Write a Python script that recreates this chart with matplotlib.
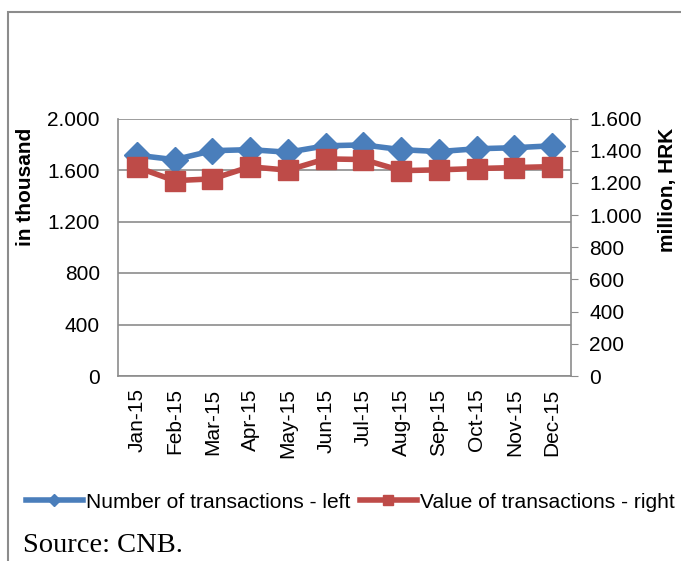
import matplotlib.pyplot as plt
from matplotlib.patches import Rectangle
from matplotlib.ticker import FuncFormatter

months = ["Jan-15", "Feb-15", "Mar-15", "Apr-15", "May-15", "Jun-15",
          "Jul-15", "Aug-15", "Sep-15", "Oct-15", "Nov-15", "Dec-15"]
num_tx = [1715, 1680, 1750, 1758, 1738, 1788, 1795, 1758, 1743, 1765, 1773, 1788]
val_tx = [1297, 1214, 1225, 1300, 1279, 1349, 1345, 1276, 1281, 1289, 1295, 1301]

blue = "#4A7EBB"
red = "#BE4B48"
grey = "#8C8C8C"

plt.rcParams['font.family'] = ['Liberation Sans', 'DejaVu Sans']

fig = plt.figure(figsize=(6.81, 5.61), dpi=100)

# outer frame of the figure box
fig.patches.append(Rectangle((8/681, -0.1), 1.2, 1 - 12/561 + 0.1, transform=fig.transFigure,
                             fill=False, edgecolor=grey, lw=1.5))

ax = fig.add_axes([118/681, 1 - 376/561, (571-118)/681, (376-118.5)/561])
ax2 = ax.twinx()

x = range(len(months))
ax.plot(x, num_tx, color=blue, lw=4, marker="D", markersize=13, label="Number of transactions - left")
ax2.plot(x, val_tx, color=red, lw=4, marker="s", markersize=15, label="Value of transactions - right")

dotfmt = FuncFormatter(lambda v, p: f"{int(v):,}".replace(",", "."))

ax.set_ylim(0, 2000)
ax.set_yticks(range(0, 2001, 400))
ax.yaxis.set_major_formatter(dotfmt)
ax2.set_ylim(0, 1600)
ax2.set_yticks(range(0, 1601, 200))
ax2.yaxis.set_major_formatter(dotfmt)

ax.set_xlim(-0.5, 11.5)
ax.set_xticks(list(x))
ax.set_xticklabels(months, rotation=90)

ax.grid(axis="y", color=grey, lw=1.2)
ax.set_axisbelow(True)
for a in (ax, ax2):
    for s in a.spines.values():
        s.set_visible(False)
ax.spines["left"].set_visible(True)
ax.spines["bottom"].set_visible(True)
ax2.spines["right"].set_visible(True)
for s in (ax.spines["left"], ax.spines["bottom"], ax2.spines["right"]):
    s.set_color(grey)
    s.set_linewidth(1.2)

ax.tick_params(axis="y", length=0, labelsize=15, pad=13)
ax.tick_params(axis="x", length=0, labelsize=15, pad=9)
ax2.tick_params(axis="y", length=5, color=grey, labelsize=15, pad=8)

ax.set_ylabel("in thousand", fontsize=15, fontweight="bold")
ax.yaxis.set_label_coords(-0.183, 0.734)
ax2.set_ylabel("million, HRK", fontsize=15, fontweight="bold")
ax2.yaxis.set_label_coords(1.192, 0.722)

h1, l1 = ax.get_legend_handles_labels()
h2, l2 = ax2.get_legend_handles_labels()
fig.legend(h1 + h2, l1 + l2, loc="center left", bbox_to_anchor=(26/681, 1 - 502/561), ncol=2,
           frameon=False, fontsize=15.15, handlelength=2.7, handletextpad=0.15, columnspacing=0.45,
           markerscale=0.45, borderaxespad=0, borderpad=0)

fig.text(23/681, 1 - 545/561, "Source: CNB.", fontsize=20.5, va="center",
         family=["Liberation Serif", "DejaVu Serif"])

fig.savefig("out.png", dpi=100)
